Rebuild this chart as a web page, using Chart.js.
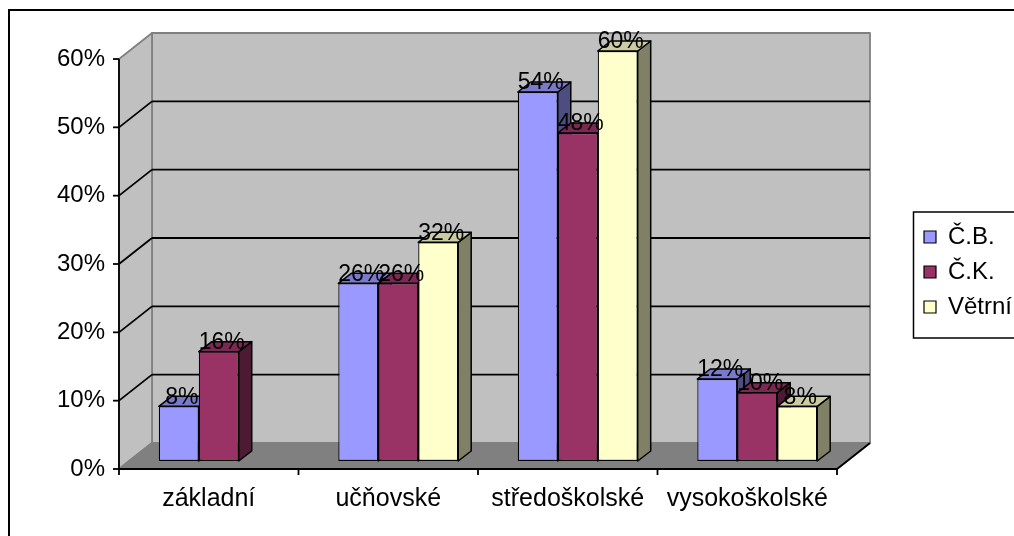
<!DOCTYPE html>
<html><head><meta charset="utf-8">
<style>html,body{margin:0;padding:0;background:#fff;}canvas{display:block;}</style>
<script src="https://cdn.jsdelivr.net/npm/chart.js@4/dist/chart.umd.min.js"></script>
</head><body>
<canvas id="c" width="1014" height="536"></canvas>
<script>
const categories = ['základní', 'učňovské', 'středoškolské', 'vysokoškolské'];
const seriesNames = ['Č.B.', 'Č.K.', 'Větrní'];
const valuesCB = [8, 26, 54, 12];
const valuesCK = [16, 26, 48, 10];
const valuesVetrni = [null, 32, 60, 8];
const yTicks = [0, 10, 20, 30, 40, 50, 60];
const seriesColors = ['#9999FF', '#993366', '#FFFFCC'];

const FONT = "'Liberation Sans', Arial, sans-serif";
const FRONT = {x: -10, y: 8};
const BACK = {x: 23, y: -18};
const DEPTH = {x: 13, y: -10};

function shade(hex, f) {
  const n = parseInt(hex.slice(1), 16);
  const r = Math.round(((n >> 16) & 255) * f), g = Math.round(((n >> 8) & 255) * f), b = Math.round((n & 255) * f);
  return 'rgb(' + r + ',' + g + ',' + b + ')';
}
function poly(ctx, pts, fill, stroke, lw) {
  ctx.beginPath();
  ctx.moveTo(pts[0][0], pts[0][1]);
  for (let i = 1; i < pts.length; i++) ctx.lineTo(pts[i][0], pts[i][1]);
  ctx.closePath();
  if (fill) { ctx.fillStyle = fill; ctx.fill(); }
  if (stroke) { ctx.strokeStyle = stroke; ctx.lineWidth = lw || 1; ctx.stroke(); }
}
function line(ctx, x1, y1, x2, y2, color, lw) {
  ctx.beginPath(); ctx.moveTo(x1, y1); ctx.lineTo(x2, y2);
  ctx.strokeStyle = color; ctx.lineWidth = lw; ctx.stroke();
}

const threeD = {
  id: 'threeD',
  beforeDatasetsDraw(chart) {
    const ctx = chart.ctx, xs = chart.scales.x, ys = chart.scales.y;
    const L = xs.left, R = xs.right;
    const vMax = yTicks[yTicks.length - 1];
    const y0 = ys.getPixelForValue(0), yT = ys.getPixelForValue(vMax);
    ctx.save();
    ctx.lineJoin = 'round';
    // back wall
    poly(ctx, [[L + BACK.x, yT + BACK.y], [R + BACK.x, yT + BACK.y], [R + BACK.x, y0 + BACK.y], [L + BACK.x, y0 + BACK.y]], '#C0C0C0', '#808080', 1.8);
    // side wall
    poly(ctx, [[L + FRONT.x, yT + FRONT.y], [L + BACK.x, yT + BACK.y], [L + BACK.x, y0 + BACK.y], [L + FRONT.x, y0 + FRONT.y]], '#C0C0C0', '#808080', 1.8);
    // floor
    poly(ctx, [[L + FRONT.x, y0 + FRONT.y], [L + BACK.x, y0 + BACK.y], [R + BACK.x, y0 + BACK.y], [R + FRONT.x, y0 + FRONT.y]], '#808080', '#808080', 1.8);
    line(ctx, R + FRONT.x, y0 + FRONT.y, R + BACK.x, y0 + BACK.y, '#000', 1.8);
    // gridlines
    yTicks.forEach(v => {
      if (v <= 0 || v >= vMax) return;
      const p = ys.getPixelForValue(v);
      line(ctx, L + BACK.x, p + BACK.y, R + BACK.x, p + BACK.y, '#000', 1.8);
      line(ctx, L + FRONT.x, p + FRONT.y, L + BACK.x, p + BACK.y, '#000', 1.8);
    });
    // front axes
    line(ctx, L + FRONT.x, yT + FRONT.y, L + FRONT.x, y0 + FRONT.y + 0.9, '#000', 1.8);
    line(ctx, L + FRONT.x, y0 + FRONT.y, R + FRONT.x, y0 + FRONT.y, '#000', 1.8);
    yTicks.forEach(v => {
      const p = ys.getPixelForValue(v) + FRONT.y;
      line(ctx, L + FRONT.x - 6, p, L + FRONT.x, p, '#000', 1.8);
    });
    const n = categories.length, w = (R - L) / n;
    for (let i = 0; i <= n; i++) {
      const x = L + i * w + FRONT.x;
      line(ctx, x, y0 + FRONT.y, x, y0 + FRONT.y + 6, '#000', 1.8);
    }
    // bar extrusions
    chart.data.datasets.forEach((ds, d) => {
      const meta = chart.getDatasetMeta(d);
      const base = seriesColors[d];
      meta.data.forEach((el, i) => {
        if (ds.data[i] === null || ds.data[i] === undefined) return;
        const p = el.getProps(['x', 'y', 'base', 'width'], true);
        const xl = p.x - p.width / 2, xr = p.x + p.width / 2;
        poly(ctx, [[xr, p.y], [xr + DEPTH.x, p.y + DEPTH.y], [xr + DEPTH.x, p.base + DEPTH.y], [xr, p.base]], shade(base, 0.5), '#000', 1.5);
        poly(ctx, [[xl, p.y], [xr, p.y], [xr + DEPTH.x, p.y + DEPTH.y], [xl + DEPTH.x, p.y + DEPTH.y]], shade(base, 0.8), '#000', 1.5);
      });
    });
    ctx.restore();
  },
  afterDatasetsDraw(chart) {
    const ctx = chart.ctx;
    ctx.save();
    ctx.font = '23px ' + FONT;
    ctx.fillStyle = '#000';
    ctx.textAlign = 'center';
    ctx.textBaseline = 'middle';
    chart.data.datasets.forEach((ds, d) => {
      const meta = chart.getDatasetMeta(d);
      meta.data.forEach((el, i) => {
        const v = ds.data[i];
        if (v === null || v === undefined) return;
        const p = el.getProps(['x', 'y'], true);
        ctx.fillText(v + '%', p.x + 3, p.y - 9);
      });
    });
    ctx.restore();
  },
  afterDraw(chart) {
    const ctx = chart.ctx;
    ctx.save();
    ctx.strokeStyle = '#000';
    ctx.lineWidth = 2;
    ctx.strokeRect(9, 10, 1100, 600);
    const lg = chart.legend;
    if (lg && lg.legendHitBoxes && lg.legendHitBoxes.length) {
      const hb = lg.legendHitBoxes;
      const top = hb[0].top - 13, bottom = hb[hb.length - 1].top + hb[hb.length - 1].height + 19;
      ctx.lineWidth = 1.5;
      ctx.strokeRect(lg.left + 0.5, top, 200, bottom - top);
    }
    ctx.restore();
  }
};

Chart.defaults.font.family = FONT;
Chart.defaults.color = '#000';

new Chart(document.getElementById('c'), {
  type: 'bar',
  data: {
    labels: categories,
    datasets: [
      {label: seriesNames[0], data: valuesCB},
      {label: seriesNames[1], data: valuesCK},
      {label: seriesNames[2], data: valuesVetrni}
    ].map((ds, i) => Object.assign(ds, {
      backgroundColor: seriesColors[i], borderColor: '#000', borderWidth: 1.2, borderSkipped: false,
      categoryPercentage: 0.668, barPercentage: 1.0
    }))
  },
  options: {
    responsive: false,
    animation: false,
    devicePixelRatio: 1,
    layout: {padding: {top: 51, bottom: 0, left: 0, right: 0}},
    scales: {
      x: {
        grid: {display: false, drawTicks: false}, border: {display: false},
        ticks: {font: {size: 25}, padding: 23, labelOffset: FRONT.x, maxRotation: 0, autoSkip: false},
        afterFit(s) { s.height = 75; }
      },
      y: {
        min: yTicks[0], max: yTicks[yTicks.length - 1],
        grid: {display: false, drawTicks: false}, border: {display: false},
        ticks: {stepSize: 10, font: {size: 24}, padding: 24, labelOffset: FRONT.y, callback: v => v + '%'},
        afterFit(s) { s.width = 129; }
      },
      yR: {
        type: 'linear', position: 'right', display: true,
        grid: {display: false, drawTicks: false}, border: {display: false}, ticks: {display: false},
        afterFit(s) { s.width = 66; }
      }
    },
    plugins: {
      legend: {
        position: 'right', align: 'center', maxWidth: 101, fullSize: false,
        title: {display: true, text: ' ', font: {size: 20}, padding: {top: 4, bottom: 4}},
        labels: {boxWidth: 12, boxHeight: 12, padding: 11, font: {size: 24}, color: '#000'}
      },
      tooltip: {enabled: false}
    }
  },
  plugins: [threeD]
});
</script>
</body></html>
